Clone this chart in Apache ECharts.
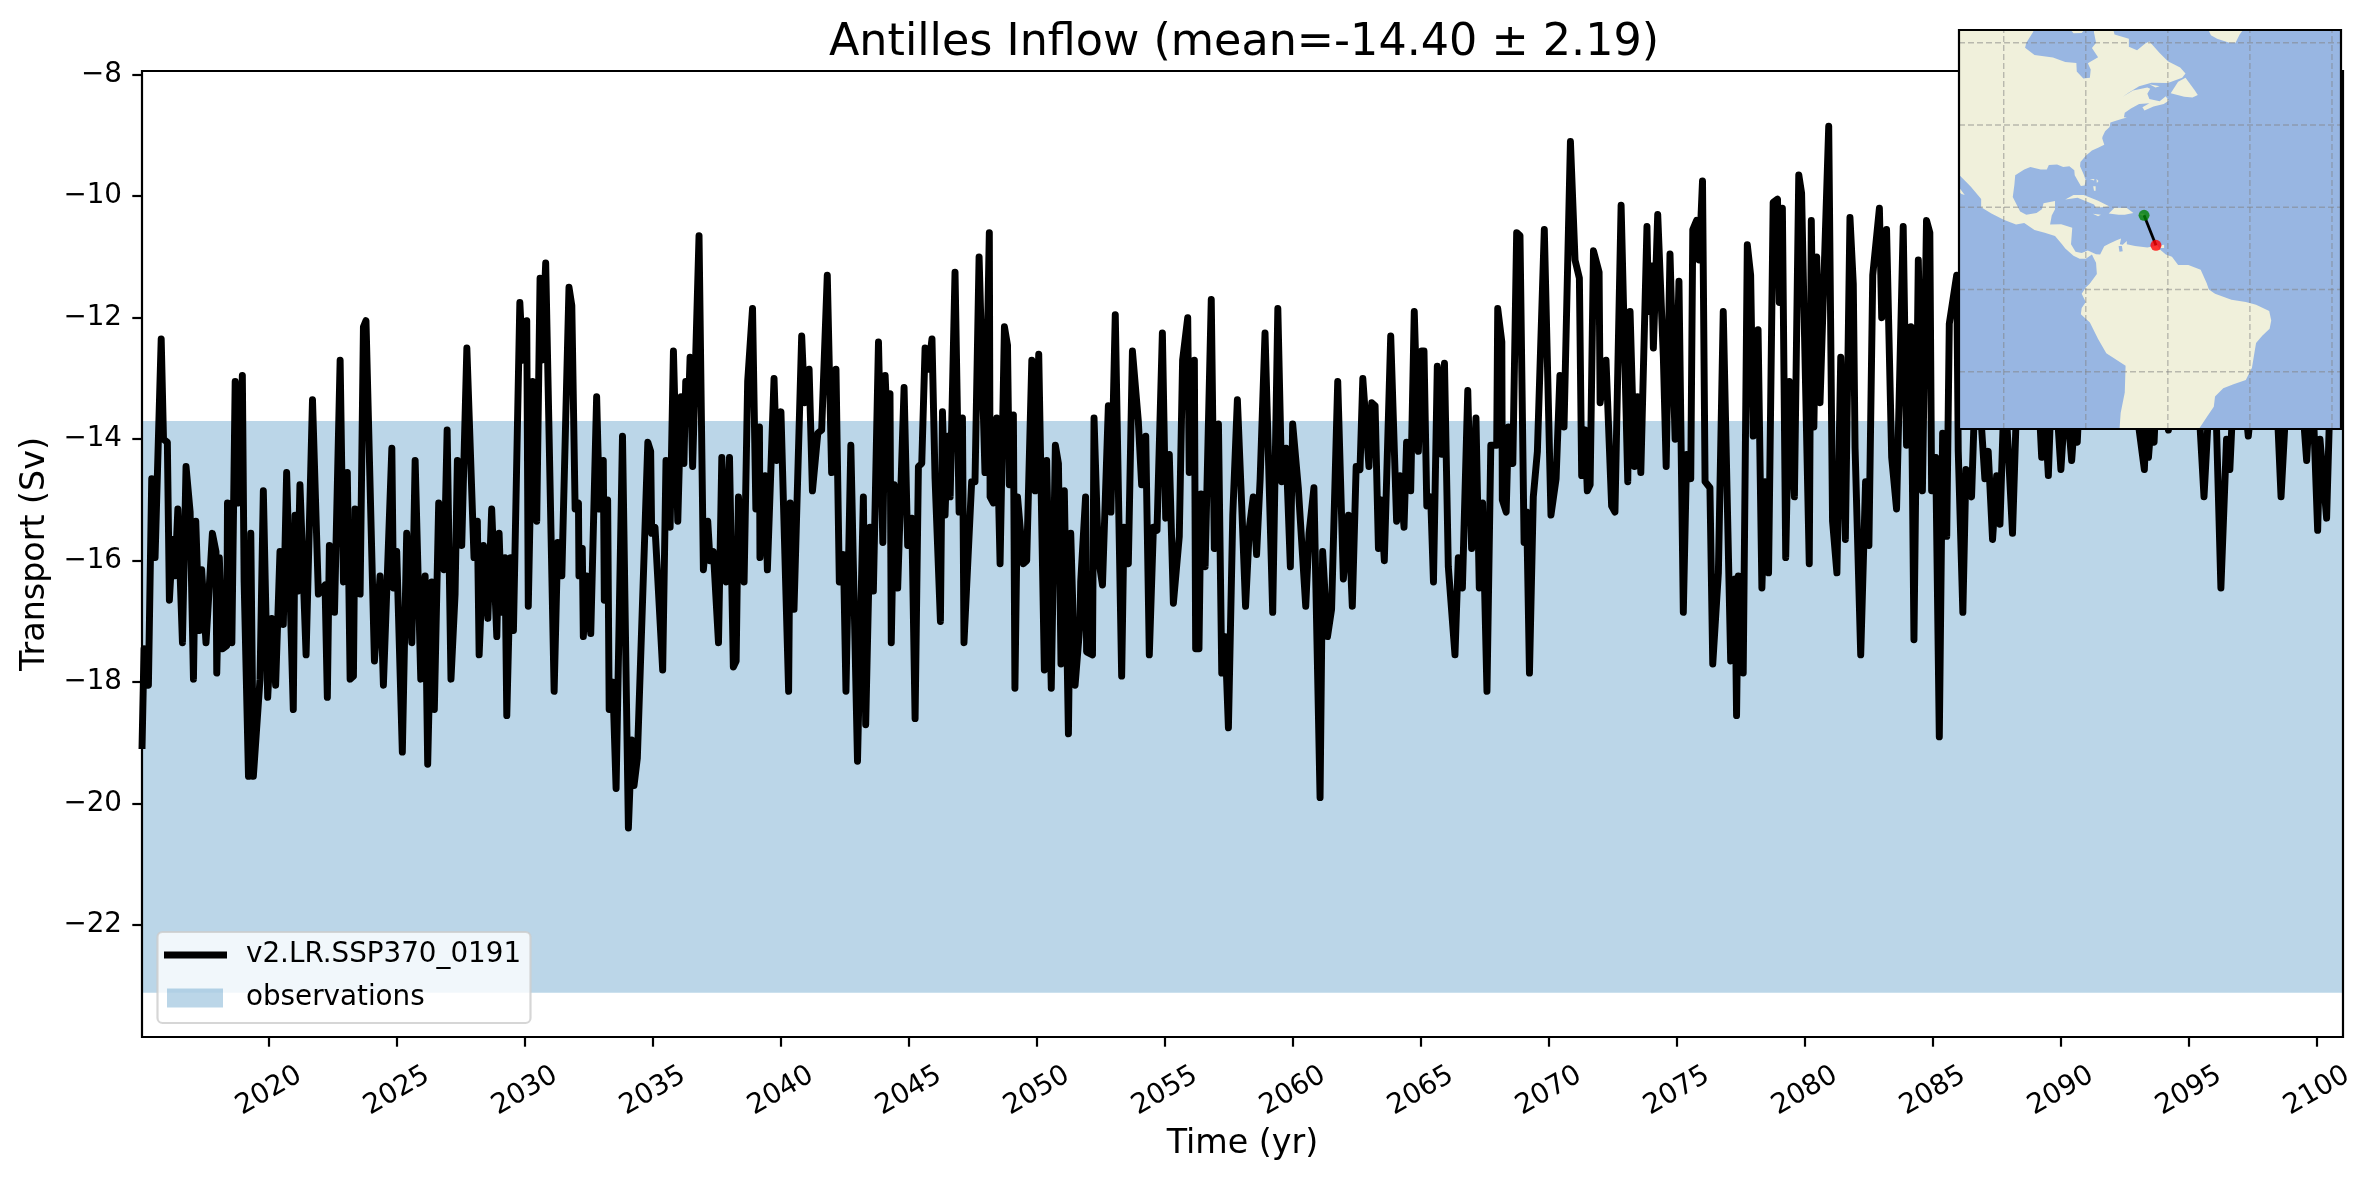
<!DOCTYPE html>
<html><head><meta charset="utf-8">
<style>html,body{margin:0;padding:0;background:#fff}#c{width:2376px;height:1180px}</style>
<script src="https://cdn.jsdelivr.net/npm/echarts@6/dist/echarts.min.js"></script>
</head><body><div id="c"></div>
<script>
const titleText = 'Antilles Inflow (mean=-14.40 \u00b1 2.19)';
const xName = 'Time (yr)';
const yName = 'Transport (Sv)';
const lineName = 'v2.LR.SSP370_0191';
const obsName = 'observations';
const xTicks = [2020,2025,2030,2035,2040,2045,2050,2055,2060,2065,2070,2075,2080,2085,2090,2095,2100];
const yTicks = [-22,-20,-18,-16,-14,-12,-10,-8];
const xRange = [2015.04, 2101.02];
const yRange = [-23.84, -7.94];
const obsBand = [-23.11, -13.7];
const transport = [
[2015.04,-19.1],[2015.12,-17.45],[2015.29,-18.05],[2015.42,-14.65],[2015.55,-15.95],[2015.79,-12.35],[2015.88,-14.0],[2016.03,-14.05],[2016.11,-16.65],[2016.24,-15.65],[2016.33,-16.25],[2016.44,-15.15],[2016.62,-17.35],[2016.76,-14.45],[2016.92,-15.2],[2017.05,-17.95],[2017.14,-15.35],[2017.28,-17.15],[2017.37,-16.15],[2017.54,-17.35],[2017.79,-15.55],[2017.93,-15.85],[2017.96,-17.85],[2018.06,-15.95],[2018.19,-17.45],[2018.35,-17.4],[2018.38,-15.05],[2018.55,-17.35],[2018.68,-13.05],[2018.81,-15.05],[2018.96,-12.95],[2019.03,-16.35],[2019.20,-19.55],[2019.29,-15.55],[2019.39,-19.55],[2019.65,-17.95],[2019.78,-14.85],[2019.95,-18.25],
[2020.11,-16.95],[2020.26,-18.05],[2020.43,-15.85],[2020.56,-17.05],[2020.69,-14.55],[2020.95,-18.45],[2021.02,-15.25],[2021.12,-16.5],[2021.21,-14.75],[2021.45,-17.55],[2021.70,-13.35],[2021.93,-16.55],[2022.19,-16.4],[2022.28,-18.25],[2022.36,-15.75],[2022.56,-16.85],[2022.78,-12.7],[2022.91,-16.35],[2023.06,-14.55],[2023.17,-17.95],[2023.30,-17.9],[2023.36,-15.15],[2023.56,-16.55],[2023.69,-12.15],[2023.79,-12.05],[2024.12,-17.65],[2024.34,-16.25],[2024.47,-18.05],[2024.80,-14.15],[2024.86,-16.45],[2024.99,-15.85],
[2025.21,-19.15],[2025.38,-15.55],[2025.58,-17.35],[2025.71,-14.35],[2025.93,-17.95],[2026.10,-16.25],[2026.20,-19.35],[2026.36,-16.35],[2026.46,-18.45],[2026.63,-15.05],[2026.84,-16.15],[2026.96,-13.85],[2027.11,-17.95],[2027.27,-16.55],[2027.36,-14.35],[2027.53,-15.75],[2027.73,-12.5],[2028.01,-15.95],[2028.14,-15.35],[2028.21,-17.55],[2028.38,-15.75],[2028.55,-16.95],[2028.70,-15.15],[2028.90,-17.25],[2028.99,-15.55],[2029.09,-16.85],[2029.22,-15.95],[2029.29,-18.55],[2029.44,-15.95],[2029.55,-17.15],[2029.80,-11.75],[2029.91,-12.7],
[2030.07,-12.05],[2030.13,-16.75],[2030.30,-13.05],[2030.46,-15.35],[2030.59,-11.35],[2030.66,-12.7],[2030.81,-11.1],[2031.14,-18.15],[2031.28,-15.7],[2031.44,-16.25],[2031.72,-11.5],[2031.83,-11.8],[2031.96,-15.15],[2032.09,-15.05],[2032.11,-16.25],[2032.24,-15.8],[2032.28,-17.25],[2032.41,-16.25],[2032.57,-17.2],[2032.80,-13.3],[2032.91,-15.15],[2033.06,-14.35],[2033.10,-16.65],[2033.23,-15.0],[2033.29,-18.45],[2033.43,-18.0],[2033.56,-19.75],[2033.81,-13.95],[2034.04,-20.4],[2034.17,-18.95],[2034.26,-19.7],[2034.39,-19.25],[2034.80,-14.05],[2034.91,-14.2],[2034.95,-15.55],
[2035.08,-15.45],[2035.38,-17.8],[2035.51,-14.35],[2035.67,-15.45],[2035.80,-12.55],[2035.97,-15.35],[2036.10,-13.3],[2036.21,-14.4],[2036.28,-13.05],[2036.38,-13.6],[2036.45,-12.65],[2036.55,-14.45],[2036.80,-10.65],[2036.97,-16.15],[2037.14,-15.35],[2037.23,-16.0],[2037.36,-15.85],[2037.56,-17.35],[2037.69,-14.3],[2037.86,-16.35],[2037.99,-14.3],[2038.14,-17.75],[2038.25,-17.65],[2038.34,-14.95],[2038.56,-16.35],[2038.70,-13.05],[2038.89,-11.85],[2039.02,-15.15],[2039.16,-13.8],[2039.18,-15.95],[2039.38,-14.6],[2039.47,-16.15],[2039.73,-13.0],[2039.83,-14.35],
[2040.0,-13.55],[2040.30,-18.15],[2040.36,-15.05],[2040.51,-16.8],[2040.81,-12.3],[2040.92,-13.4],[2041.10,-12.85],[2041.23,-14.85],[2041.44,-13.9],[2041.59,-13.85],[2041.81,-11.3],[2041.98,-14.55],[2042.15,-12.85],[2042.28,-16.35],[2042.44,-15.9],[2042.54,-18.15],[2042.73,-14.1],[2042.99,-19.3],[2043.22,-14.95],[2043.31,-18.7],[2043.48,-15.45],[2043.61,-16.5],[2043.81,-12.4],[2043.98,-15.7],[2044.07,-12.95],[2044.17,-14.0],[2044.26,-13.25],[2044.31,-17.35],[2044.42,-14.75],[2044.56,-16.45],[2044.81,-13.15],[2044.95,-15.75],
[2045.11,-15.3],[2045.24,-18.6],[2045.37,-14.45],[2045.50,-14.4],[2045.63,-12.5],[2045.76,-12.85],[2045.90,-12.35],[2046.02,-14.65],[2046.23,-17.0],[2046.31,-13.55],[2046.41,-15.25],[2046.51,-13.95],[2046.61,-14.95],[2046.80,-11.25],[2046.96,-15.2],[2047.09,-13.65],[2047.15,-17.35],[2047.45,-14.7],[2047.58,-14.7],[2047.74,-11.0],[2047.97,-14.55],[2048.14,-10.6],[2048.17,-14.95],[2048.30,-15.05],[2048.43,-13.65],[2048.56,-16.05],[2048.73,-12.15],[2048.85,-12.45],[2048.92,-14.75],[2049.08,-13.6],[2049.14,-18.1],[2049.24,-14.95],[2049.47,-16.05],[2049.60,-16.0],[2049.80,-12.7],[2049.93,-14.85],
[2050.07,-12.6],[2050.29,-17.8],[2050.38,-14.35],[2050.56,-18.1],[2050.72,-14.1],[2050.84,-14.4],[2050.94,-17.7],[2051.07,-14.85],[2051.23,-18.85],[2051.32,-15.55],[2051.49,-18.05],[2051.68,-17.05],[2051.71,-16.35],[2051.90,-14.95],[2051.94,-17.5],[2052.17,-17.55],[2052.23,-13.65],[2052.40,-15.95],[2052.56,-16.4],[2052.79,-13.45],[2052.89,-15.2],[2053.06,-11.95],[2053.31,-17.9],[2053.40,-15.45],[2053.57,-16.05],[2053.73,-12.55],[2053.96,-13.7],[2054.09,-14.75],[2054.25,-13.95],[2054.39,-17.55],[2054.55,-15.45],[2054.69,-15.5],[2054.90,-12.25],
[2055.03,-15.3],[2055.17,-14.25],[2055.33,-16.7],[2055.56,-15.6],[2055.69,-12.7],[2055.89,-12.0],[2055.95,-14.55],[2056.15,-12.7],[2056.20,-17.45],[2056.33,-17.45],[2056.41,-14.9],[2056.57,-16.1],[2056.81,-11.7],[2056.93,-15.8],[2057.09,-13.75],[2057.22,-17.85],[2057.35,-17.25],[2057.48,-18.75],[2057.65,-15.25],[2057.83,-13.35],[2058.0,-15.1],[2058.15,-16.75],[2058.30,-15.45],[2058.45,-14.95],[2058.58,-15.9],[2058.72,-14.65],[2058.91,-12.25],[2059.21,-16.85],[2059.41,-11.85],[2059.56,-14.7],[2059.73,-14.15],[2059.90,-16.1],[2059.99,-13.75],
[2060.21,-14.8],[2060.50,-16.75],[2060.63,-15.55],[2060.82,-14.8],[2061.06,-19.9],[2061.16,-15.85],[2061.35,-17.25],[2061.51,-16.8],[2061.75,-13.05],[2061.97,-16.3],[2062.17,-15.25],[2062.32,-16.75],[2062.47,-14.45],[2062.62,-14.5],[2062.73,-13.0],[2062.97,-14.45],[2063.08,-13.4],[2063.21,-13.45],[2063.34,-15.8],[2063.44,-15.0],[2063.57,-16.0],[2063.82,-12.3],[2064.05,-15.35],[2064.18,-14.6],[2064.34,-15.45],[2064.44,-14.05],[2064.60,-14.85],[2064.74,-11.9],[2064.90,-14.2],
[2065.03,-12.55],[2065.12,-12.55],[2065.23,-15.1],[2065.38,-14.95],[2065.49,-16.35],[2065.64,-12.8],[2065.81,-14.25],[2065.92,-12.75],[2066.07,-16.1],[2066.33,-17.55],[2066.46,-15.95],[2066.62,-16.45],[2066.83,-13.2],[2066.98,-15.8],[2067.15,-13.65],[2067.28,-16.45],[2067.41,-15.05],[2067.58,-18.15],[2067.73,-14.1],[2067.96,-14.1],[2068.0,-11.85],[2068.16,-12.4],[2068.18,-15.0],[2068.33,-15.2],[2068.42,-13.8],[2068.59,-14.4],[2068.74,-10.6],[2068.87,-10.65],[2069.03,-15.7],[2069.13,-15.2],[2069.24,-17.85],[2069.39,-14.95],[2069.55,-14.2],[2069.82,-10.55],
[2070.08,-15.25],[2070.28,-14.65],[2070.43,-12.95],[2070.59,-13.8],[2070.84,-9.1],[2071.02,-11.05],[2071.19,-11.35],[2071.28,-14.6],[2071.41,-13.85],[2071.50,-14.85],[2071.61,-14.75],[2071.74,-10.9],[2071.96,-11.25],[2072.0,-13.4],[2072.23,-12.7],[2072.45,-15.1],[2072.58,-15.2],[2072.82,-10.15],[2073.08,-14.7],[2073.17,-11.9],[2073.34,-14.45],[2073.46,-13.3],[2073.59,-14.55],[2073.83,-10.5],[2073.89,-11.9],[2074.02,-11.15],[2074.08,-12.5],[2074.25,-10.3],[2074.47,-12.65],[2074.58,-14.45],[2074.73,-10.95],[2074.93,-14.0],
[2075.08,-11.4],[2075.25,-16.85],[2075.38,-14.25],[2075.54,-14.65],[2075.62,-10.55],[2075.77,-10.4],[2075.87,-11.05],[2076.0,-9.75],[2076.10,-14.7],[2076.29,-14.8],[2076.40,-17.7],[2076.62,-16.2],[2076.81,-11.9],[2077.10,-17.65],[2077.27,-16.3],[2077.33,-18.55],[2077.40,-16.25],[2077.59,-17.85],[2077.75,-10.8],[2077.88,-11.3],[2077.98,-13.95],[2078.17,-12.2],[2078.32,-16.45],[2078.44,-14.7],[2078.58,-16.2],[2078.76,-10.1],[2078.93,-10.05],[2079.0,-11.75],[2079.12,-10.2],[2079.25,-15.95],[2079.39,-13.05],[2079.59,-14.95],[2079.76,-9.65],[2079.87,-9.95],
[2080.17,-16.05],[2080.25,-10.4],[2080.35,-13.8],[2080.46,-11.0],[2080.59,-13.4],[2080.93,-8.85],[2081.08,-15.35],[2081.25,-16.2],[2081.40,-12.65],[2081.58,-15.65],[2081.76,-10.35],[2081.89,-11.45],[2081.96,-14.15],[2082.18,-17.55],[2082.37,-14.7],[2082.50,-15.75],[2082.65,-11.3],[2082.91,-10.2],[2083.0,-12.0],[2083.19,-10.55],[2083.39,-14.3],[2083.58,-15.15],[2083.84,-10.5],[2083.97,-14.1],[2084.14,-12.15],[2084.26,-17.3],[2084.43,-11.05],[2084.59,-14.85],[2084.75,-10.4],[2084.88,-10.6],[2084.95,-14.85],
[2085.11,-14.3],[2085.25,-18.9],[2085.38,-13.9],[2085.54,-15.6],[2085.64,-12.1],[2085.93,-11.3],[2085.99,-14.2],[2086.17,-16.85],[2086.29,-14.5],[2086.51,-14.95],[2086.7,-12.5],[2087.03,-14.65],[2087.16,-14.2],[2087.33,-15.65],[2087.49,-14.6],[2087.62,-15.4],[2087.8,-13.0],[2088.11,-15.55],[2088.3,-13.0],[2088.7,-12.0],[2089.1,-13.0],[2089.25,-14.3],[2089.38,-13.6],[2089.51,-14.6],[2089.6,-13.5],[2089.85,-13.5],[2090.0,-14.5],[2090.15,-13.5],[2090.25,-13.5],[2090.42,-14.35],[2090.55,-13.6],[2090.64,-14.05],[2090.75,-13.0],
[2091.2,-12.0],[2092.0,-11.5],[2092.95,-13.5],[2093.26,-14.5],[2093.35,-13.6],[2093.42,-14.3],[2093.55,-13.6],[2093.64,-14.05],[2093.75,-13.0],[2094.0,-13.0],[2094.2,-13.85],[2094.4,-13.0],[2095.37,-13.3],[2095.59,-14.95],[2095.80,-13.3],[2096.04,-13.2],[2096.25,-16.45],[2096.47,-14.0],[2096.6,-14.5],[2096.74,-13.2],[2097.15,-13.2],[2097.32,-13.95],[2097.5,-13.2],[2098.43,-13.3],[2098.6,-14.95],[2098.82,-13.2],[2099.4,-13.2],[2099.6,-14.35],[2099.75,-13.2],[2099.86,-13.5],[2100.03,-15.5],[2100.12,-14.0],[2100.38,-15.3],[2100.5,-13.5]
];

// Inset map (lon, lat)
const mapLon = [-110.9, -17.8];
const mapLat = [-33.9, 63.1];
const gridLons = [-100,-80,-60,-40,-20];
const gridLats = [60,40,20,0,-20];
const americas = [[-125,75],[-92.8,75],[-92.8,62.7],[-94.5,60],[-94.8,58.8],[-92.5,57],[-88,56.4],[-85,55.3],[-82.3,55.1],[-82.2,53],[-80.6,51.3],[-79,51.5],[-78.8,53.5],[-79.5,55],[-77,56.5],[-78.5,58.7],[-77.5,60],[-78,62.5],[-78,64],[-73.5,64],[-73,62],[-69.5,61],[-69.5,59],[-67.5,58.2],[-65.5,59.8],[-64.5,60.3],[-62,57.5],[-60,55.5],[-57,54],[-55.7,52.5],[-56.5,51.5],[-60,50.2],[-64,50.3],[-67,49.4],[-69.5,47.9],[-71,46.9],[-68.5,48.4],[-65,49.15],[-64.3,48.8],[-65,47.6],[-64.5,46.3],[-62,45.8],[-60.5,47],[-59.8,45.9],[-61,45.1],[-63.5,44.5],[-65.7,43.5],[-66.2,44.3],[-64.5,45.3],[-67,45.1],[-69,44],[-70.5,43],[-70.7,41.9],[-70,41.8],[-71.5,41.4],[-74,40.6],[-74.2,39.5],[-75.3,38.5],[-75.9,37.2],[-76,36.8],[-75.5,35.2],[-77,34.5],[-78.5,33.8],[-80,32.5],[-81.3,31],[-81.4,30],[-80.5,28],[-80,26.5],[-80.3,25.3],[-81.2,25.2],[-81.8,26.2],[-82.7,27.8],[-82.8,29],[-84,30],[-85.5,29.8],[-87,30.4],[-89,30.3],[-89.5,29.2],[-91,29.2],[-93.5,29.8],[-95,29.2],[-97.2,27.8],[-97.4,25.5],[-97.8,22.5],[-96,19],[-94.5,18.2],[-92,18.6],[-90.7,19.5],[-90.3,21],[-87.5,21.5],[-87.5,19.5],[-88.3,18],[-88.7,15.8],[-86,15.9],[-83.3,15],[-83.6,11],[-82.5,9.2],[-81,8.9],[-79.5,9.5],[-77.5,8.6],[-76.5,8.5],[-75.5,10.5],[-74.2,11.2],[-72.5,12],[-71.4,12.4],[-71.7,11],[-71,10.9],[-70,11.8],[-70,11],[-68,10.6],[-65,10.2],[-62.5,10.7],[-62,9.8],[-60.5,8.5],[-59,8],[-57.5,6],[-55,6],[-52,4.8],[-50.5,1.5],[-50,0],[-48.5,-1],[-44.5,-2.5],[-41,-3],[-38.5,-3.7],[-35.3,-5.2],[-34.8,-7.5],[-35.2,-9.5],[-37,-11.2],[-38.5,-13],[-39,-16],[-39.5,-19],[-41,-22],[-44,-23],[-46.5,-24],[-48.5,-26],[-48.8,-28.5],[-50.5,-31],[-52.5,-34],[-53,-37],[-72,-37],[-71.5,-30],[-70.5,-25],[-70.3,-18.5],[-75,-15.5],[-77,-12],[-79,-8],[-81.2,-6],[-81,-4.5],[-80,-3],[-81,-1],[-80,0.5],[-79,1.5],[-77.3,3.8],[-77.5,6.5],[-78,7.5],[-78.5,8.5],[-80,7.5],[-81.5,7.5],[-83,8.2],[-85,10],[-85.8,11],[-87.5,13],[-90,13.8],[-92.5,14.5],[-95,16.2],[-97,15.8],[-100,17],[-103,18.5],[-105.5,20],[-105.5,22],[-108,25],[-109.5,26.5],[-111,28],[-113,31],[-125,40]];
const baja = [[-112.5,26.5],[-110.5,24.3],[-109.5,23],[-110.3,23.2],[-112.5,25]];
const cuba = [[-85,21.9],[-83,23],[-80.5,23],[-77,21.6],[-74.2,20.2],[-77.5,19.9],[-78,20.7],[-82,22.3]];
const hispaniola = [[-74.4,18.5],[-73,19.9],[-70,19.8],[-68.4,18.6],[-70.5,18.2],[-72,18.2]];
const jamaica = [[-78.3,18.4],[-76.3,18.2],[-77,17.8]];
const puertoRico = [[-67.2,18.5],[-65.7,18.4],[-66,17.9]];
const andros = [[-78.2,25.1],[-77.6,25.1],[-77.6,24],[-78,24]];
const grandBahama = [[-79,26.8],[-77.9,26.9],[-78,26.5]];
const abaco = [[-77.4,26.9],[-76.9,26.4],[-77.3,25.9]];
const newfoundland = [[-59.3,47.7],[-57.5,50.5],[-55.7,51.5],[-53.5,48.5],[-52.7,47.3],[-54,46.7],[-56,46.9]];
const anticosti = [[-64.5,49.9],[-62,49.4],[-63,49.1]];
const greenland = [[-50.5,64],[-49.5,61.8],[-48,61],[-45,60],[-43.5,60],[-42.5,62],[-41,64]];
const mansel = [[-84,63.5],[-80,63.5],[-81,62.4],[-83,62.3]];
const trinidad = [[-61.9,10.1],[-60.9,10.1],[-60.9,10.9],[-61.7,10.8]];
const landPolys = [americas,baja,cuba,hispaniola,jamaica,puertoRico,andros,grandBahama,abaco,newfoundland,anticosti,greenland,mansel,trinidad];
const lagoon = [[-72,10.6],[-71.2,10.6],[-71,9.3],[-71.8,9.2]];
const section = [[-65.8,18.05],[-62.9,10.75]];

const FONT = 'DejaVu Sans';
const OCEAN = '#98B6E2', LAND = '#F0F0DB';

function framePoints(api, xr, yr){
  return [api.coord([xr[0],yr[0]]),api.coord([xr[1],yr[0]]),api.coord([xr[1],yr[1]]),api.coord([xr[0],yr[1]])];
}
function frameSeries(xi, xr, yr, z, fill, lw){
  return {type:'custom',xAxisIndex:xi,yAxisIndex:xi,z:z,silent:true,clip:false,data:[[xr[0],yr[0]]],encode:{x:0,y:1},
    renderItem:function(p,api){return {type:'polygon',shape:{points:framePoints(api,xr,yr)},style:{fill:fill,stroke:lw?'#000':null,lineWidth:lw||0}};}};
}
function polySeries(polys, z, fill){
  return {type:'custom',xAxisIndex:1,yAxisIndex:1,z:z,silent:true,clip:true,data:polys.map(function(q){return q[0];}),encode:{x:0,y:1},
    renderItem:function(p,api){return {type:'polygon',shape:{points:polys[p.dataIndex].map(function(c){return api.coord(c);})},style:{fill:fill}};}};
}
function gratSeries(){
  const segs=[];
  gridLons.forEach(function(l){segs.push([[l,mapLat[0]],[l,mapLat[1]]]);});
  gridLats.forEach(function(l){segs.push([[mapLon[0],l],[mapLon[1],l]]);});
  return {type:'custom',xAxisIndex:1,yAxisIndex:1,z:13,silent:true,clip:true,data:segs.map(function(q){return q[0];}),encode:{x:0,y:1},
    renderItem:function(p,api){const a=api.coord(segs[p.dataIndex][0]),b=api.coord(segs[p.dataIndex][1]);
      return {type:'line',shape:{x1:a[0],y1:a[1],x2:b[0],y2:b[1]},style:{stroke:'rgba(128,128,128,0.5)',lineWidth:1.4,lineDash:[6,3]}};}};
}

const chart = echarts.init(document.getElementById('c'),null,{renderer:'canvas',width:2376,height:1180});
chart.setOption({
  animation:false,
  backgroundColor:'#fff',
  textStyle:{fontFamily:FONT},
  title:{text:titleText,left:1239,top:16,textAlign:'center',textStyle:{fontFamily:FONT,fontSize:44.44,fontWeight:'normal',color:'#000'}},
  grid:[{left:142,top:71,width:2201,height:966,containLabel:false,outerBoundsMode:'none'},{left:1959,top:30,width:382,height:399,containLabel:false,outerBoundsMode:'none'}],
  xAxis:[{type:'value',gridIndex:0,min:xRange[0],max:xRange[1],name:xName,nameLocation:'middle',nameGap:91,nameTextStyle:{fontFamily:FONT,fontSize:33.33,color:'#000'},
    axisLine:{show:false},splitLine:{show:false},
    axisTick:{show:true,length:9.7,customValues:xTicks,lineStyle:{color:'#000',width:2.2}},
    axisLabel:{show:true,customValues:xTicks,rotate:30,margin:54,align:'center',verticalAlign:'middle',fontFamily:FONT,fontSize:27.78,color:'#000',formatter:function(v){return String(v);}}},
    {type:'value',gridIndex:1,min:mapLon[0],max:mapLon[1],show:false}],
  yAxis:[{type:'value',gridIndex:0,min:yRange[0],max:yRange[1],name:yName,nameLocation:'middle',nameGap:90,nameTextStyle:{fontFamily:FONT,fontSize:33.33,color:'#000'},
    axisLine:{show:false},splitLine:{show:false},
    axisTick:{show:true,length:9.7,customValues:yTicks,lineStyle:{color:'#000',width:2.2}},
    axisLabel:{show:true,customValues:yTicks,margin:20,fontFamily:FONT,fontSize:27.78,color:'#000',formatter:function(v){return String(v).replace('-','\u2212');}}},
    {type:'value',gridIndex:1,min:mapLat[0],max:mapLat[1],show:false}],
  legend:[
    {data:[{name:lineName,icon:'rect'}],left:164,top:941,orient:'vertical',padding:0,z:8,itemWidth:63,itemHeight:7,selectedMode:false,
      textStyle:{fontFamily:FONT,fontSize:27.78,color:'#000',padding:[0,0,0,14]}},
    {data:[{name:obsName,icon:'rect'}],left:167,top:984,orient:'vertical',padding:0,z:8,itemWidth:56,itemHeight:19,selectedMode:false,
      textStyle:{fontFamily:FONT,fontSize:27.78,color:'#000',padding:[0,0,0,18]}}
  ],
  graphic:[{type:'rect',z:6,silent:true,shape:{x:157.5,y:932,width:373,height:91,r:5},style:{fill:'rgba(255,255,255,0.8)',stroke:'rgba(204,204,204,0.8)',lineWidth:2.2}}],
  series:[
    {name:obsName,type:'custom',xAxisIndex:0,yAxisIndex:0,z:1,silent:true,clip:true,data:[[xRange[0],obsBand[0]]],encode:{x:0,y:1},
      itemStyle:{color:'rgba(31,119,180,0.3)'},
      renderItem:function(p,api){return {type:'polygon',shape:{points:framePoints(api,xRange,obsBand)},style:{fill:'rgba(31,119,180,0.3)'}};}},
    {name:lineName,type:'line',xAxisIndex:0,yAxisIndex:0,z:3,data:transport,showSymbol:false,symbol:'none',clip:true,sampling:false,smooth:false,
      itemStyle:{color:'#000'},lineStyle:{color:'#000',width:6.94,join:'round',cap:'butt'}},
    frameSeries(0,xRange,yRange,5,'none',2.2),
    frameSeries(1,mapLon,mapLat,10,OCEAN,0),
    polySeries(landPolys,11,LAND),
    polySeries([lagoon],12,OCEAN),
    gratSeries(),
    {type:'line',xAxisIndex:1,yAxisIndex:1,z:14,data:section,symbol:'none',silent:true,lineStyle:{color:'#000',width:2.8}},
    {type:'scatter',xAxisIndex:1,yAxisIndex:1,z:15,data:[section[0]],symbolSize:11,silent:true,itemStyle:{color:'#008000'}},
    {type:'scatter',xAxisIndex:1,yAxisIndex:1,z:15,data:[section[1]],symbolSize:11,silent:true,itemStyle:{color:'#ff0000'}},
    frameSeries(1,mapLon,mapLat,16,'none',2.2)
  ]
});
</script></body></html>
